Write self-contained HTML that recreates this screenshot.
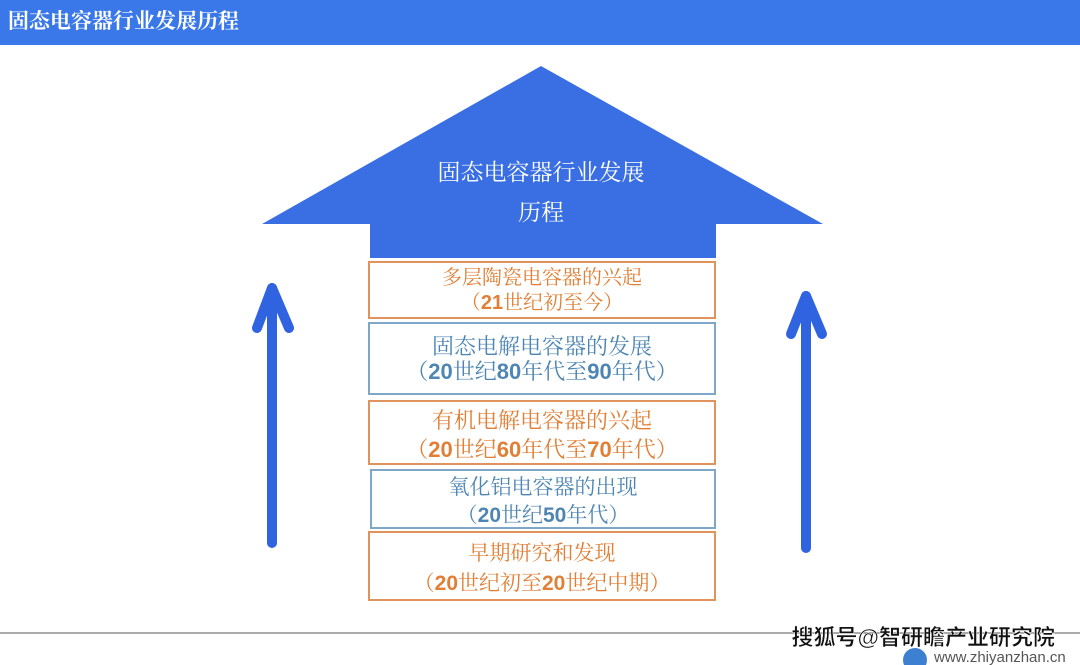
<!DOCTYPE html>
<html><head><meta charset="utf-8"><style>
body{margin:0;width:1080px;height:665px;background:#fff;position:relative;overflow:hidden;font-family:"Liberation Sans","Noto Sans CJK SC",sans-serif}
.hdr{position:absolute;left:0;top:0;width:1080px;height:45px;background:#3a78ea;color:#fff;font-size:21px;font-weight:bold;line-height:42px;padding-left:8px;box-sizing:border-box;font-family:"Liberation Serif","Noto Serif CJK SC",serif}
.b{position:absolute;left:368px;width:348px;box-sizing:border-box;border:2px solid;text-align:center;font-size:20px;line-height:25px;font-family:"Liberation Serif","Noto Serif CJK SC",serif}
.o{border-color:#e0935c;color:#e07f35}
.u{border-color:#7fa8c8;color:#4e86b3}
.b span{font-family:"Liberation Sans",sans-serif;font-weight:bold}
</style></head><body>
<div class="hdr">固态电容器行业发展历程</div>
<svg width="1080" height="665" style="position:absolute;left:0;top:0">
<polygon points="541,66 823,224 716,224 716,258 370,258 370,224 262,224" fill="#3a6fe4"/>
<text x="541" y="180" fill="#fff" font-size="23" text-anchor="middle" font-family="Liberation Serif,Noto Serif CJK SC,serif">固态电容器行业发展</text>
<text x="541" y="220" fill="#fff" font-size="23" text-anchor="middle" font-family="Liberation Serif,Noto Serif CJK SC,serif">历程</text>
<g stroke="#2f63e0" stroke-width="10" fill="none" stroke-linecap="round" stroke-linejoin="round">
<line x1="272" y1="543" x2="272" y2="288"/><polyline points="257,328 272,288 289,328"/>
<line x1="806" y1="548" x2="806" y2="296"/><polyline points="791,334 806,296 822,334"/>
</g>
<line x1="0" y1="633" x2="1080" y2="633" stroke="#555" stroke-width="1"/>
<circle cx="915" cy="660" r="12" fill="#3d7fd0"/>
<text x="934" y="662" fill="#555" font-size="15" font-family="Liberation Sans,sans-serif">www.zhiyanzhan.cn</text>
<text x="1055" y="645" fill="#111" stroke="#fff" stroke-width="0.5" font-size="22" font-weight="bold" text-anchor="end" font-family="Liberation Sans,Noto Sans CJK SC,sans-serif">搜狐号@智研瞻产业研究院</text>
</svg>
<div class="b o" style="top:261px;height:58px;padding-top:3px">多层陶瓷电容器的兴起<br>（<span>21</span>世纪初至今）</div>
<div class="b u" style="top:322px;height:73px;padding-top:10px;font-size:22px">固态电解电容器的发展<br>（<span>20</span>世纪<span>80</span>年代至<span>90</span>年代）</div>
<div class="b o" style="top:400px;height:65px;padding-top:4px;font-size:22px;line-height:29px">有机电解电容器的兴起<br>（<span>20</span>世纪<span>60</span>年代至<span>70</span>年代）</div>
<div class="b u" style="top:469px;left:370px;width:346px;height:60px;padding-top:2px;font-size:21px;line-height:28px">氧化铝电容器的出现<br>（<span>20</span>世纪<span>50</span>年代）</div>
<div class="b o" style="top:531px;height:70px;padding-top:5px;font-size:21px;line-height:30px">早期研究和发现<br>（<span>20</span>世纪初至<span>20</span>世纪中期）</div>
</body></html>
